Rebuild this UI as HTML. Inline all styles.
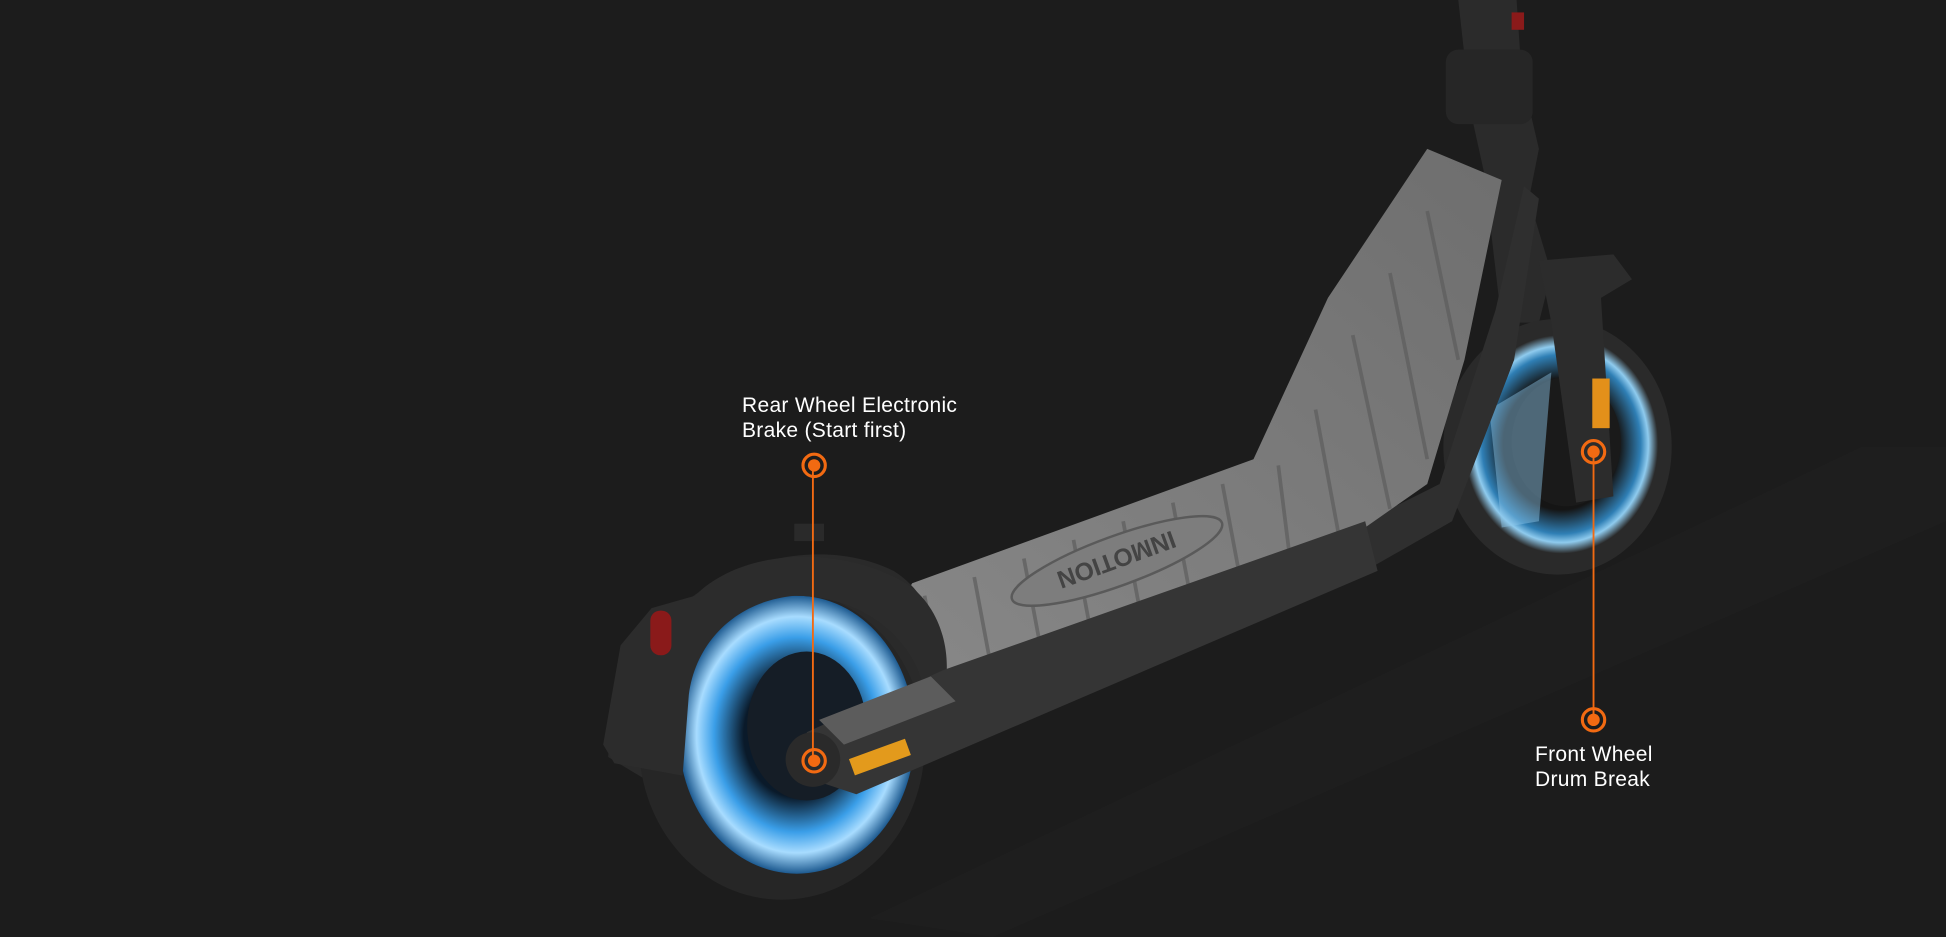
<!DOCTYPE html>
<html><head><meta charset="utf-8"><style>
html,body{margin:0;padding:0;background:#1c1c1c;}
#w{position:relative;width:1946px;height:937px;overflow:hidden;background:#1c1c1c;}
svg{position:absolute;left:0;top:0;}
.t{position:absolute;color:#fff;font-family:"Liberation Sans",sans-serif;font-size:21px;line-height:25px;letter-spacing:0.3px;}
</style></head><body><div id="w">
<svg width="1946" height="937" viewBox="0 0 1568 755">
<defs>
<linearGradient id="deck" x1="0" y1="1" x2="1" y2="0"><stop offset="0" stop-color="#8a8a8a"/><stop offset="1" stop-color="#6e6e6e"/></linearGradient>
<radialGradient id="glow" cx="0.5" cy="0.5" r="0.5"><stop offset="0.45" stop-color="#0a1a2a"/><stop offset="0.7" stop-color="#3a9ee8"/><stop offset="0.85" stop-color="#a8dcff"/><stop offset="1" stop-color="#1d5a90"/></radialGradient>
<radialGradient id="glow2" cx="0.5" cy="0.5" r="0.5"><stop offset="0.6" stop-color="#151515"/><stop offset="0.82" stop-color="#2f7fb5"/><stop offset="0.9" stop-color="#8fcbee"/><stop offset="1" stop-color="#2a2a2a"/></radialGradient>
</defs>
<rect width="1568" height="755" fill="#1c1c1c"/>
<polygon points="700,740 1500,360 1568,360 1568,420 800,755" fill="#202020" opacity="0.6"/>
<!-- stem -->
<polygon points="1175,0 1222,0 1226,60 1240,120 1232,160 1250,220 1240,260 1210,260 1196,140 1185,90" fill="#2b2b2b"/>
<rect x="1165" y="40" width="70" height="60" rx="10" fill="#262626"/>
<rect x="1218" y="10" width="10" height="14" fill="#8a1a1a"/>
<!-- front wheel -->
<ellipse cx="1255" cy="360" rx="92" ry="103" fill="#2a2a2a"/>
<ellipse cx="1258" cy="358" rx="78" ry="88" fill="url(#glow2)"/>
<ellipse cx="1262" cy="356" rx="44" ry="52" fill="#1a1a1a"/>
<polygon points="1240,210 1300,205 1315,225 1290,240 1300,400 1270,405 1250,260" fill="#2c2c2c"/>
<rect x="1283" y="305" width="14" height="40" fill="#e3901a"/>
<polygon points="1200,330 1250,300 1240,420 1210,425" fill="#8fc8ea" opacity="0.45"/>
<!-- deck body dark -->
<polygon points="655,590 1100,420 1160,390 1205,250 1228,150 1240,160 1220,290 1170,420 1100,460 690,625" fill="#2f2f2f"/>
<!-- deck grey -->
<polygon points="665,585 735,470 1010,370 1070,240 1150,120 1210,145 1180,290 1150,390 1100,425 760,570" fill="url(#deck)"/>
<g stroke="#5d5d5d" stroke-width="3" opacity="0.7">
<line x1="760" y1="560" x2="745" y2="480"/><line x1="800" y1="545" x2="785" y2="465"/>
<line x1="840" y1="530" x2="825" y2="450"/><line x1="880" y1="515" x2="865" y2="435"/>
<line x1="920" y1="500" x2="905" y2="420"/><line x1="960" y1="485" x2="945" y2="405"/>
<line x1="1000" y1="470" x2="985" y2="390"/><line x1="1040" y1="455" x2="1030" y2="375"/>
<line x1="1080" y1="438" x2="1060" y2="330"/><line x1="1120" y1="410" x2="1090" y2="270"/>
<line x1="1150" y1="370" x2="1120" y2="220"/><line x1="1175" y1="290" x2="1150" y2="170"/>
</g>
<ellipse cx="900" cy="452" rx="90" ry="20" transform="rotate(-20 900 452)" fill="#7d7d7d" stroke="#5a5a5a" stroke-width="2"/>
<text x="900" y="460" font-family="Liberation Sans" font-weight="bold" font-size="20" fill="#444" text-anchor="middle" transform="rotate(160 900 452)">INMOTION</text>
<rect x="826" y="543" width="38" height="22" rx="4" fill="#b0181c" transform="rotate(-20 845 554)"/>
<!-- rear fender back -->
<path d="M490,610 C500,470 640,420 720,460 C760,485 765,540 740,560 L720,540 C700,480 620,470 570,520 C545,550 545,600 540,640 Z" fill="#2a2a2a"/>
<ellipse cx="630" cy="600" rx="115" ry="125" fill="#262626"/>
<ellipse cx="642" cy="592" rx="95" ry="112" fill="url(#glow)"/>
<ellipse cx="650" cy="585" rx="48" ry="60" fill="#151d26"/>
<path d="M486,600 L500,520 L525,490 L560,480 C600,440 680,440 730,470 C760,490 768,530 760,560 L745,560 C740,520 700,480 640,480 C590,485 560,520 555,560 L550,625 L495,615 Z" fill="#2c2c2c"/>
<rect x="524" y="492" width="17" height="36" rx="8" fill="#8a1a1a"/>
<rect x="640" y="422" width="24" height="14" fill="#2a2a2a"/>
<polygon points="650,590 760,540 1100,420 1110,460 760,610 690,640 660,630" fill="#353535"/>
<polygon points="660,580 750,545 770,565 680,600" fill="#5c5c5c"/>
<rect x="685" y="603" width="48" height="14" fill="#e39a1c" transform="rotate(-20 709 610)"/>
<circle cx="655" cy="612" r="22" fill="#2a2a2a"/>
<g stroke="#f26a12" fill="none">
<line x1="655" y1="375" x2="655" y2="613" stroke-width="1.5"/>
<line x1="1284" y1="365" x2="1284" y2="580" stroke-width="1.5"/>
<circle cx="656" cy="375" r="9" stroke-width="2.5"/>
<circle cx="656" cy="613" r="9" stroke-width="2.5"/>
<circle cx="1284" cy="364" r="9" stroke-width="2.5"/>
<circle cx="1284" cy="580" r="9" stroke-width="2.5"/>
</g>
<g fill="#f26a12">
<circle cx="656" cy="375" r="5"/><circle cx="656" cy="613" r="5"/>
<circle cx="1284" cy="364" r="5"/><circle cx="1284" cy="580" r="5"/>
</g>
</svg>
<div class="t" style="left:742px;top:393px;">Rear Wheel Electronic<br>Brake (Start first)</div>
<div class="t" style="left:1535px;top:742px;">Front Wheel<br>Drum Break</div>
</div></body></html>
